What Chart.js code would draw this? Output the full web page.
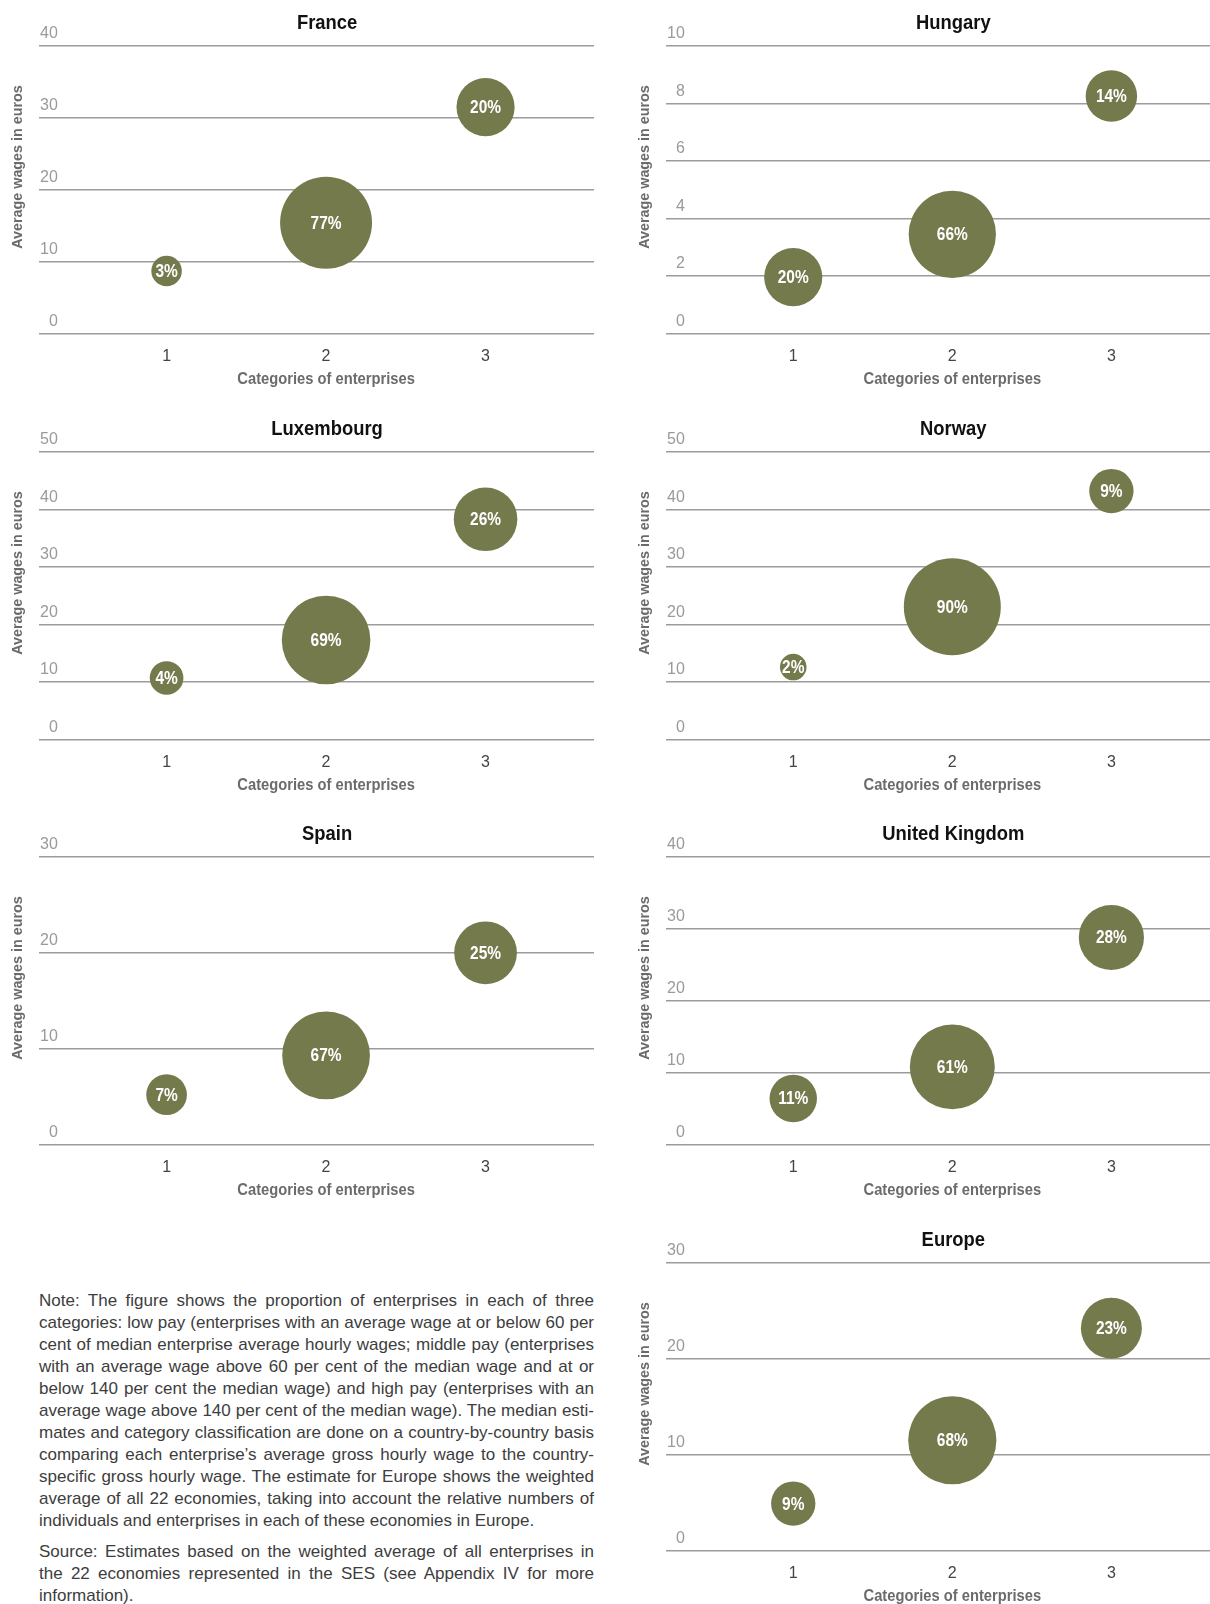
<!DOCTYPE html>
<html>
<head>
<meta charset="utf-8">
<title>Enterprises by wage category</title>
<script src="https://cdn.jsdelivr.net/npm/chart.js@4.4.1/dist/chart.umd.min.js"></script>
<style>
  body { margin:0; width:1210px; height:1604px; background:#fff; position:relative; overflow:hidden; }
  canvas { position:absolute; }
  #note { position:absolute; left:39px; top:1290px; width:555px; font:17px/22px "Liberation Sans", Arial, sans-serif; color:#3d3d3d; }
  #note div { text-align:justify; text-align-last:justify; white-space:nowrap; }
  #note div.last { text-align-last:left; }
  #note .gap { height:8.6px; }
</style>
</head>
<body>
<div id="note">
  <div>Note: The figure shows the proportion of enterprises in each of three</div>
  <div>categories: low pay (enterprises with an average wage at or below 60 per</div>
  <div>cent of median enterprise average hourly wages; middle pay (enterprises</div>
  <div>with an average wage above 60 per cent of the median wage and at or</div>
  <div>below 140 per cent the median wage) and high pay (enterprises with an</div>
  <div>average wage above 140 per cent of the median wage). The median esti-</div>
  <div>mates and category classification are done on a country-by-country basis</div>
  <div>comparing each enterprise’s average gross hourly wage to the country-</div>
  <div>specific gross hourly wage. The estimate for Europe shows the weighted</div>
  <div>average of all 22 economies, taking into account the relative numbers of</div>
  <div class="last">individuals and enterprises in each of these economies in Europe.</div>
  <div class="gap"></div>
  <div>Source: Estimates based on the weighted average of all enterprises in</div>
  <div>the 22 economies represented in the SES (see Appendix IV for more</div>
  <div class="last">information).</div>
</div>
<script>
// categories of enterprises: 1 = low pay, 2 = middle pay, 3 = high pay
const categories = [1, 2, 3];
const countries = ['France', 'Hungary', 'Luxembourg', 'Norway', 'Spain', 'United Kingdom', 'Europe'];
const yMaxes = [40, 10, 50, 50, 30, 40, 30];
const ySteps = [10, 2, 10, 10, 10, 10, 10];

// average hourly wage (euros) per category
const franceWages = [8.7, 15.4, 31.5];
const hungaryWages = [1.96, 3.45, 8.26];
const luxembourgWages = [10.7, 17.3, 38.3];
const norwayWages = [12.6, 23.1, 43.2];
const spainWages = [5.2, 9.3, 20.0];
const ukWages = [6.4, 10.8, 28.8];
const europeWages = [4.9, 11.5, 23.2];

// share of enterprises (%) per category = bubble size
const franceShares = [3, 77, 20];
const hungaryShares = [20, 66, 14];
const luxembourgShares = [4, 69, 26];
const norwayShares = [2, 90, 9];
const spainShares = [7, 67, 25];
const ukShares = [11, 61, 28];
const europeShares = [9, 68, 23];

const wages = [franceWages, hungaryWages, luxembourgWages, norwayWages, spainWages, ukWages, europeWages];
const shares = [franceShares, hungaryShares, luxembourgShares, norwayShares, spainShares, ukShares, europeShares];

// [column, row] of each panel on the page
const slots = [[0, 0], [1, 0], [0, 1], [1, 1], [0, 2], [1, 2], [1, 3]];
const rowTops = [0, 406, 811, 1217];

const OLIVE = '#747a4c';
const SANS = '"Liberation Sans", Arial, sans-serif';

function bubbleR(p) { return 10.5 * Math.pow(p, 0.34); }

// text squeezed sideways to get the narrow look of the original typeface
function narrowText(ctx, text, x, y, sx, rot) {
  ctx.save();
  ctx.translate(x, y);
  if (rot) ctx.rotate(rot);
  ctx.scale(sx, 1);
  ctx.fillText(text, 0, 0);
  ctx.restore();
}

// titles, axis titles and bubble labels
const panelText = {
  id: 'panelText',
  afterDatasetsDraw(chart, args, opts) {
    const ctx = chart.ctx;
    const meta = chart.getDatasetMeta(0);
    const cx = chart.scales.x.getPixelForValue(2);
    ctx.save();
    ctx.textAlign = 'center';
    ctx.textBaseline = 'middle';

    ctx.fillStyle = '#fff';
    ctx.font = 'bold 18px ' + SANS;
    meta.data.forEach((el, k) => narrowText(ctx, opts.shares[k] + '%', el.x, el.y + 1, 0.86));

    ctx.fillStyle = '#111';
    ctx.font = 'bold 20px ' + SANS;
    narrowText(ctx, opts.title, cx + 1, 23, 0.92);

    ctx.fillStyle = '#6b6b6b';
    ctx.font = 'bold 16px ' + SANS;
    narrowText(ctx, 'Categories of enterprises', cx, 380, 0.92);

    ctx.font = 'bold 15px ' + SANS;
    narrowText(ctx, 'Average wages in euros', opts.yTitleX, 167, 0.955, -Math.PI / 2);
    ctx.restore();
  }
};

countries.forEach((name, i) => {
  const col = slots[i][0], row = slots[i][1];
  const canvas = document.createElement('canvas');
  canvas.width = 605;
  canvas.height = 405;
  canvas.style.left = (col * 605) + 'px';
  canvas.style.top = rowTops[row] + 'px';
  document.body.appendChild(canvas);

  new Chart(canvas, {
    type: 'bubble',
    data: {
      datasets: [{
        data: categories.map((c, k) => ({ x: c, y: wages[i][k], r: bubbleR(shares[i][k]) })),
        backgroundColor: OLIVE,
        borderWidth: 0,
        hoverBorderWidth: 0,
        clip: false
      }]
    },
    options: {
      responsive: false,
      animation: false,
      events: [],
      layout: { autoPadding: false, padding: { left: col ? 61 : 39, right: col ? 0 : 11, top: 46, bottom: 0 } },
      plugins: {
        legend: { display: false },
        tooltip: { enabled: false },
        panelText: { title: name, shares: shares[i], yTitleX: col ? 40 : 18 }
      },
      scales: {
        x: {
          type: 'linear', min: 0.2, max: col ? 3.62 : 3.68,
          grid: { display: false, drawTicks: false },
          border: { display: false },
          afterBuildTicks: s => { s.ticks = categories.map(v => ({ value: v })); },
          afterFit: s => { s.height = 71.5; s.paddingLeft = 0; s.paddingRight = 0; },
          ticks: { padding: 13, color: '#444', font: { family: SANS, size: 16 } }
        },
        y: {
          min: 0, max: yMaxes[i],
          grid: { color: '#9c9c9c', lineWidth: 1.5, drawTicks: false },
          border: { display: false },
          afterFit: s => { s.width = 0; s.paddingTop = 0; s.paddingBottom = 0; },
          ticks: {
            stepSize: ySteps[i], mirror: true, crossAlign: 'far', padding: 1, labelOffset: -12,
            color: '#9a9a9a', font: { family: SANS, size: 16 }
          }
        }
      }
    },
    plugins: [panelText]
  });
});
</script>
</body>
</html>
